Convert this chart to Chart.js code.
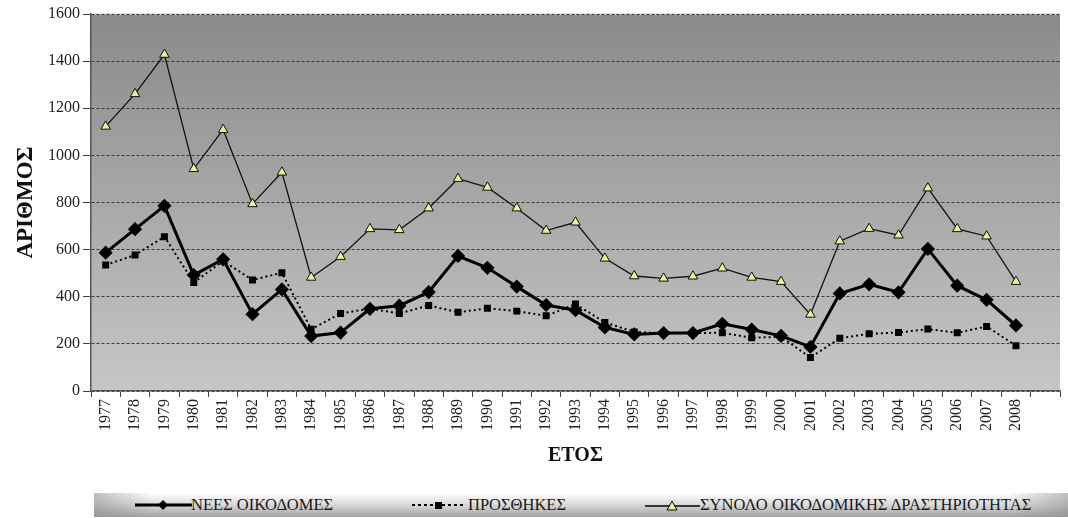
<!DOCTYPE html>
<html>
<head>
<meta charset="utf-8">
<script src="https://cdn.jsdelivr.net/npm/chart.js@4/dist/chart.umd.min.js"></script>
<style>
  body { margin: 0; background: #fff; }
  .wrap { position: relative; width: 1068px; height: 518px; }
  #chart { position: absolute; left: 0; top: 0; }
  .legend {
    position: absolute; left: 94px; top: 493px; width: 974px; height: 24px;
    background:
      linear-gradient(to right, rgba(140,140,140,0.55) 0%, rgba(140,140,140,0) 6%, rgba(140,140,140,0) 94%, rgba(140,140,140,0.55) 100%),
      linear-gradient(to bottom, #ffffff 0%, #dcdcdc 45%, #a2a2a2 100%);
  }
  .legend svg { position: absolute; top: 4px; }
  .legend span {
    position: absolute; top: 2px; font-family: "Liberation Serif", "Times New Roman", serif;
    font-size: 16.5px; color: #1a1a1a; line-height: 20px; white-space: nowrap;
  }
</style>
</head>
<body>
<div class="wrap">
  <canvas id="chart" width="1068" height="472"></canvas>
  <div class="legend">
    <svg style="left:41px" width="57" height="16">
      <line x1="0" y1="8" x2="57" y2="8" stroke="#000" stroke-width="3"/>
      <polygon points="28,3 33,8 28,13 23,8" fill="#000"/>
    </svg>
    <span style="left:97px">ΝΕΕΣ ΟΙΚΟΔΟΜΕΣ</span>
    <svg style="left:318px" width="54" height="16">
      <line x1="0" y1="8" x2="54" y2="8" stroke="#000" stroke-width="2" stroke-dasharray="3,3"/>
      <rect x="23" y="5" width="7" height="7" fill="#000"/>
    </svg>
    <span style="left:374px">ΠΡΟΣΘΗΚΕΣ</span>
    <svg style="left:551px" width="55" height="16">
      <line x1="0" y1="9" x2="55" y2="9" stroke="#000" stroke-width="1.3"/>
      <polygon points="27,4 32,13 22,13" fill="#eeee99" stroke="#000" stroke-width="1"/>
    </svg>
    <span style="left:606px">ΣΥΝΟΛΟ ΟΙΚΟΔΟΜΙΚΗΣ ΔΡΑΣΤΗΡΙΟΤΗΤΑΣ</span>
  </div>
</div>
<script>
const years = ['1977', '1978', '1979', '1980', '1981', '1982', '1983', '1984', '1985', '1986',
  '1987', '1988', '1989', '1990', '1991', '1992', '1993', '1994', '1995', '1996', '1997',
  '1998', '1999', '2000', '2001', '2002', '2003', '2004', '2005', '2006', '2007', '2008'];

const newBuildings = [587, 687, 786, 492, 559, 326, 431, 233, 248, 349, 362, 420, 573, 523, 443, 365,
  343, 270, 240, 246, 246, 285, 261, 234, 187, 414, 453, 419, 603, 447, 387, 278];
const additions = [535, 577, 655, 460, 552, 471, 502, 262, 329, 350, 329, 363, 334, 351, 339, 319,
  369, 291, 251, 245, 246, 247, 226, 230, 142, 224, 243, 248, 263, 247, 274, 192];
const total = [1123, 1261, 1428, 943, 1109, 794, 928, 482, 570, 688, 684, 776, 901, 864, 776, 681,
  716, 563, 488, 478, 487, 521, 482, 464, 325, 636, 689, 661, 861, 688, 657, 464];

const seriesNames = ['ΝΕΕΣ ΟΙΚΟΔΟΜΕΣ', 'ΠΡΟΣΘΗΚΕΣ', 'ΣΥΝΟΛΟ ΟΙΚΟΔΟΜΙΚΗΣ ΔΡΑΣΤΗΡΙΟΤΗΤΑΣ'];

// the original axis keeps one empty slot after 2008
const labels = years.concat(['']);

const serif = "'Liberation Serif', 'Times New Roman', serif";

// gray gradient behind the plot area
const plotBg = {
  id: 'plotBg',
  beforeDraw(chart) {
    const { ctx, chartArea: a } = chart;
    const g = ctx.createLinearGradient(0, a.top, 0, a.bottom);
    g.addColorStop(0, '#8a8a8a');
    g.addColorStop(1, '#c6c6c6');
    ctx.save();
    ctx.fillStyle = g;
    ctx.fillRect(a.left, a.top, a.right - a.left, a.bottom - a.top);
    ctx.strokeStyle = '#d8d8d8';
    ctx.lineWidth = 1.5;
    ctx.beginPath();
    ctx.moveTo(a.left, a.top);
    ctx.lineTo(a.right, a.top);
    ctx.stroke();
    ctx.restore();
  }
};

new Chart(document.getElementById('chart'), {
  type: 'line',
  data: {
    labels: labels,
    datasets: [
      {
        label: seriesNames[2],
        data: total,
        borderColor: '#111',
        borderWidth: 1.3,
        pointStyle: 'triangle',
        pointRadius: 5.5,
        pointBackgroundColor: '#eeee99',
        pointBorderColor: '#111',
        pointBorderWidth: 1,
        tension: 0
      },
      {
        label: seriesNames[1],
        data: additions,
        borderColor: '#000',
        borderWidth: 2,
        borderDash: [2, 3],
        pointStyle: 'rect',
        pointRadius: 3.5,
        pointBackgroundColor: '#000',
        pointBorderColor: '#000',
        tension: 0
      },
      {
        label: seriesNames[0],
        data: newBuildings,
        borderColor: '#000',
        borderWidth: 3,
        pointStyle: 'rectRot',
        pointRadius: 5,
        pointBackgroundColor: '#000',
        pointBorderColor: '#000',
        tension: 0
      }
    ]
  },
  options: {
    responsive: false,
    animation: false,
    layout: { padding: { top: 14, right: 2, left: 0, bottom: 0 } },
    plugins: {
      legend: { display: false },
      tooltip: { enabled: false }
    },
    scales: {
      x: {
        offset: true,
        grid: {
          offset: true,
          drawOnChartArea: false,
          drawTicks: true,
          tickLength: 6,
          tickColor: '#444',
          tickBorderDash: []
        },
        border: { color: '#555', width: 1.5 },
        ticks: {
          minRotation: 90,
          maxRotation: 90,
          autoSkip: false,
          padding: 2,
          color: '#222',
          font: { family: serif, size: 16 }
        },
        title: {
          display: true,
          text: 'ΕΤΟΣ',
          color: '#111',
          padding: { top: 4, bottom: 4 },
          font: { family: serif, size: 20, weight: 'bold' }
        },
        afterFit(scale) { scale.height = 81; }
      },
      y: {
        min: 0,
        max: 1600,
        ticks: {
          stepSize: 200,
          padding: 3,
          color: '#222',
          font: { family: serif, size: 16 },
          callback: (v) => String(v)
        },
        grid: {
          color: '#3c3c3c',
          lineWidth: 1,
          tickLength: 8,
          tickColor: '#444',
          tickBorderDash: []
        },
        border: { color: '#555', width: 1.5, dash: [3, 2] },
        title: {
          display: true,
          text: 'ΑΡΙΘΜΟΣ',
          color: '#111',
          padding: { top: 12, bottom: 4 },
          font: { family: serif, size: 23, weight: 'bold' }
        },
        afterFit(scale) { scale.width = 91; }
      }
    }
  },
  plugins: [plotBg]
});
</script>
</body>
</html>
